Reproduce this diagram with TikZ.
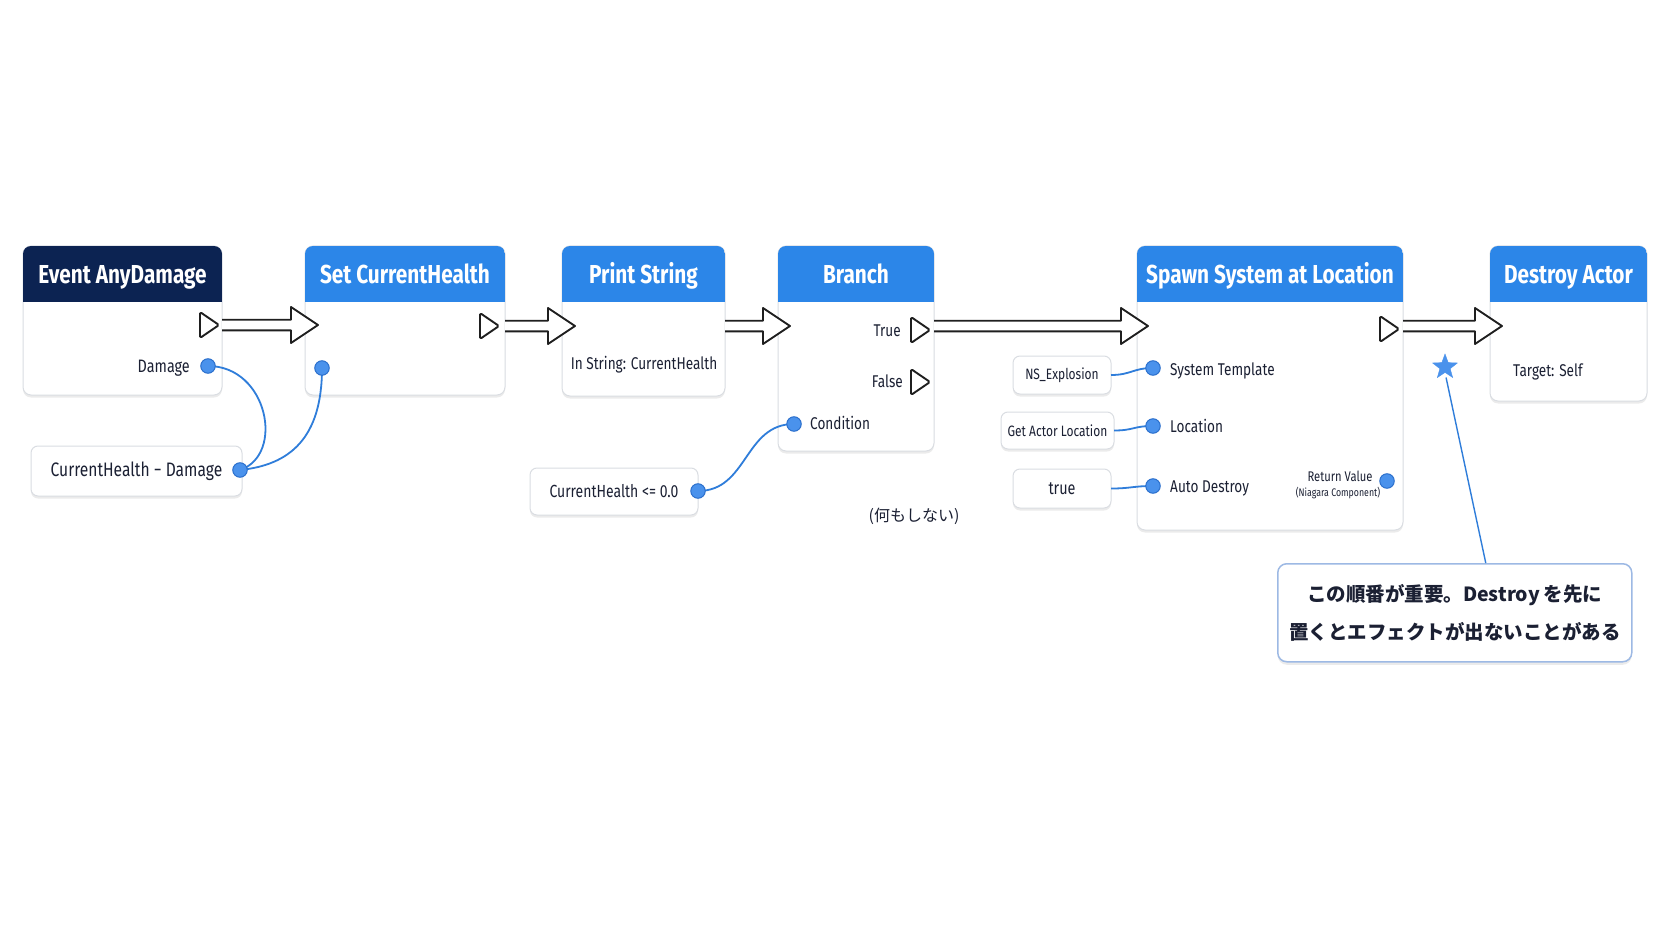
\documentclass[tikz,border=0pt]{standalone}
\usepackage{fontspec}
\setmainfont{Fira Sans}[FakeStretch=0.8]
\newfontfamily\cjk{Noto Sans CJK JP}
\usetikzlibrary{calc,shapes.geometric,shadows}
\definecolor{navy}{HTML}{0C2352}
\definecolor{hblue}{HTML}{2C86E8}
\definecolor{pinblue}{HTML}{4A92EC}
\definecolor{pinedge}{HTML}{2B6FCC}
\definecolor{wire}{HTML}{2F7DDA}
\definecolor{txt}{HTML}{1B2033}
\definecolor{bordergray}{HTML}{DADDE2}
\definecolor{callb}{HTML}{9DB9E4}
\tikzset{
 bpbox/.style={rectangle, rounded corners=8pt, draw=bordergray, line width=1pt, fill=white, outer sep=0pt, inner sep=0pt,
   drop shadow={shadow xshift=0pt, shadow yshift=-2.5pt, opacity=0.08, fill=black}},
 valbox/.style={bpbox, rounded corners=7pt, text=txt},
 hdrtxt/.style={font=\bfseries\fontsize{26}{30}\selectfont, text=white, inner sep=0pt, anchor=base},
 lbl/.style={font=\fontsize{17}{20}\selectfont, text=txt, inner sep=0pt},
 datapin/.style={circle, fill=pinblue, draw=pinedge, line width=1pt, minimum size=14.5pt, inner sep=0pt},
 wirel/.style={draw=wire, line width=1.8pt},
 execarr/.style={draw=black!88, line width=1.9pt, fill=white, line join=round},
 exectri/.style={draw=black!88, line width=1.9pt, fill=white, line join=round, rounded corners=1.5pt},
}
\newcommand\bpnode[7]{%
 \node[bpbox, anchor=north west, minimum width=#4pt, minimum height=#5pt] (#1) at (#2,#3) {};
 \begin{scope}
 \clip[rounded corners=8pt] (#1.north west) rectangle (#1.south east);
 \fill[#6] (#1.north west) rectangle ($(#1.north east)+(0,56)$);
 \end{scope}
 \node[hdrtxt] (#1-t) at ($(#1.north)+(0,37.5)$) {#7};
}
\newcommand\exectri[3]{%
 \coordinate (#1) at (#2,#3);
 \draw[exectri] ($(#1)+(-19,-13)$) -- (#1) -- ($(#1)+(-19,13)$) -- cycle;
}
\newcommand\execarrow[2]{%
 \draw[execarr] let \p1=(#1), \p2=(#2) in
  (\x1,\y1+5.3pt) -- (\x2-27pt,\y1+5.3pt) -- (\x2-27pt,\y1+18pt) -- (\x2,\y1)
  -- (\x2-27pt,\y1-18pt) -- (\x2-27pt,\y1-5.3pt) -- (\x1,\y1-5.3pt);
}
\begin{document}
\begin{tikzpicture}[x=1pt,y=-1pt]
\path[use as bounding box, fill=white] (0,0) rectangle (1672,941);

% main nodes
\bpnode{event}{23}{246}{199}{149}{navy}{Event AnyDamage}
\bpnode{set}{305}{246}{200}{149}{hblue}{Set CurrentHealth}
\bpnode{print}{562}{246}{163}{150}{hblue}{Print String}
\bpnode{branch}{778}{246}{156}{205}{hblue}{Branch}
\bpnode{spawn}{1137}{246}{266}{284}{hblue}{Spawn System at Location}
\bpnode{destroy}{1490}{246}{157}{155}{hblue}{Destroy Actor}

% value boxes
\node[valbox, anchor=north west, minimum width=211pt, minimum height=50pt, font=\fontsize{19.5}{22}\selectfont] (chd) at (31,446) {CurrentHealth − Damage};
\node[valbox, anchor=north west, minimum width=168pt, minimum height=47pt, font=\fontsize{17.5}{21}\selectfont] (chl) at (530,468) {CurrentHealth <= 0.0};
\node[valbox, anchor=north west, minimum width=98pt, minimum height=38pt, font=\fontsize{15}{18}\selectfont] (ns) at (1013,356) {NS\_Explosion};
\node[valbox, anchor=north west, minimum width=113pt, minimum height=37pt, font=\fontsize{15}{18}\selectfont] (gal) at (1001,412) {Get Actor Location};
\node[valbox, anchor=north west, minimum width=98pt, minimum height=39pt, font=\fontsize{18}{21}\selectfont] (tru) at (1013,469) {true};

% exec pins
\exectri{ev-x}{219}{325}
\exectri{set-x}{499}{326}
\exectri{true-x}{930}{330}
\exectri{false-x}{930}{382}
\exectri{spawn-x}{1399}{329}

% labels
\node[lbl, anchor=base east, font=\fontsize{18}{20}\selectfont] (dmg-l) at (190,372) {Damage};
\node[lbl, anchor=base] (print-l) at (644,369.5) {In String: CurrentHealth};
\node[lbl, anchor=base east] (true-l) at (901,336.5) {True};
\node[lbl, anchor=base east] (false-l) at (903,387.5) {False};
\node[lbl, anchor=base west] (cond-l) at (810,429.5) {Condition};
\node[lbl, anchor=base west] (st-l) at (1170,375) {System Template};
\node[lbl, anchor=base west] (loc-l) at (1170,432.5) {Location};
\node[lbl, anchor=base west] (ad-l) at (1170,492) {Auto Destroy};
\node[lbl, anchor=base west] (tgt-l) at (1513,376) {Target: Self};
\node[font=\fontsize{14}{16}\selectfont, text=txt, inner sep=0pt] (rv-l) at (1340,476) {Return Value};
\node[font=\fontsize{11}{13}\selectfont, text=txt, inner sep=0pt] (rv-s) at (1338,493) {(Niagara Component)};
\node[font=\cjk\fontsize{16}{20}\selectfont, text=txt, inner sep=0pt] (nothing) at (914,516) {(何もしない)};

% wires
\draw[wirel] (208,366) coordinate (dmg-c) .. controls +(60,0) and +(45,-15) .. (240,470) coordinate (chd-c);
\draw[wirel] (322,368) coordinate (setp-c) .. controls +(0,70) and +(50,-5) .. (chd-c);
\draw[wirel] (698,491) coordinate (chl-c) .. controls +(50,0) and +(-50,0) .. (794,424) coordinate (cond-c);
\draw[wirel] (ns.east) .. controls +(20,0) and +(-20,0) .. (1153,368) coordinate (st-c);
\draw[wirel] (gal.east) .. controls +(20,0) and +(-20,0) .. (1153,426) coordinate (loc-c);
\draw[wirel] (tru.east) .. controls +(20,0) and +(-20,0) .. (1153,486) coordinate (ad-c);

% data pins
\node[datapin] (dmg) at (dmg-c) {};
\node[datapin] (setp) at (setp-c) {};
\node[datapin] (chdp) at (chd-c) {};
\node[datapin] (chlp) at (chl-c) {};
\node[datapin] (cond) at (cond-c) {};
\node[datapin] (stp) at (st-c) {};
\node[datapin] (locp) at (loc-c) {};
\node[datapin] (adp) at (ad-c) {};
\node[datapin] (rvp) at (1387,481) {};

% exec arrows
\execarrow{event.east |- ev-x}{$(set.west |- ev-x)+(13,0)$}
\execarrow{set.east |- set-x}{$(print.west |- set-x)+(13,0)$}
\execarrow{print.east |- set-x}{$(branch.west |- set-x)+(12,0)$}
\execarrow{branch.east |- 0,326}{$(spawn.west |- 0,326)+(11,0)$}
\execarrow{spawn.east |- 0,326}{$(destroy.west |- 0,326)+(12,0)$}

% callout
\node[star, star points=5, star point ratio=2.4, fill=pinblue, draw=pinblue, minimum size=26pt, inner sep=0pt] (star) at (1445,367) {};
\node[draw=callb, line width=1.5pt, rounded corners=9pt, fill=white, minimum width=354pt, minimum height=98pt,
  anchor=north west, align=center, inner sep=0pt, text=txt, font=\cjk\bfseries\fontsize{19.5}{38}\selectfont,
  drop shadow={shadow xshift=0pt, shadow yshift=-3pt, opacity=0.08, fill=black}] (call) at (1277,563)
  {この順番が重要。Destroy\hspace{4pt}を先に\\置くとエフェクトが出ないことがある};
\coordinate (call-a) at ($(call.north)+(31,0)$);
\draw[draw=wire, line width=1.4pt, shorten <=5pt] (star.south) -- (call-a);
\end{tikzpicture}
\end{document}
